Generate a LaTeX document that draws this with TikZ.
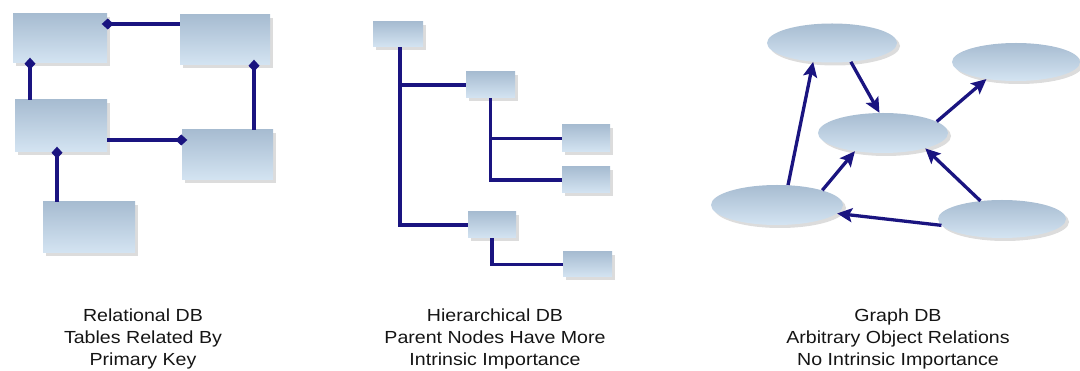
\documentclass[tikz,border=0pt]{standalone}
\usepackage{fontspec}
\newfontfamily\lblfont[FakeStretch=1.12]{Liberation Sans}
\usetikzlibrary{arrows.meta,shadows,shapes.geometric,calc}
\definecolor{navy}{HTML}{1A1480}
\definecolor{boxtop}{HTML}{A7BCD1}
\definecolor{boxbot}{HTML}{D4E4F2}
\definecolor{txt}{HTML}{151515}
\tikzset{
  tbl/.style={rectangle, draw=none, inner sep=0pt, top color=boxtop, bottom color=boxbot,
    drop shadow={shadow xshift=3pt, shadow yshift=-3pt, opacity=0.28, fill=gray}},
  obj/.style={ellipse, draw=none, inner sep=0pt, top color=boxtop, bottom color=boxbot,
    drop shadow={shadow xshift=3pt, shadow yshift=-3pt, opacity=0.28, fill=gray}},
  rel/.style={draw=navy, line width=3.4pt},
  reltip/.style={{Diamond[length=12pt,width=11pt]}-, shorten <=-5.5pt},
  tiptorel/.style={-{Diamond[length=12pt,width=11pt]}, shorten >=-5.5pt},
  treeln/.style={draw=navy, line width=3.1pt},
  arr/.style={draw=navy, line width=3.3pt, -{Stealth[length=15pt,width=14pt,inset=3pt]}},
  lbl/.style={font=\lblfont\fontsize{17.5}{22}\selectfont, text=txt, align=center, anchor=base, inner sep=0pt}
}
\begin{document}
\begin{tikzpicture}[x=1pt,y=-1pt]
\useasboundingbox (0,0) rectangle (1080,371);
% ---------- Relational ----------
\node[tbl, minimum width=94pt, minimum height=49pt] (a) at (60,38.5) {};
\node[tbl, minimum width=90pt, minimum height=50pt] (b) at (225,40) {};
\node[tbl, minimum width=92pt, minimum height=52pt] (c) at (61,126) {};
\node[tbl, minimum width=91pt, minimum height=50pt] (d) at (227.5,155) {};
\node[tbl, minimum width=92pt, minimum height=51pt] (e) at (89,227.5) {};
\draw[rel, reltip] ([yshift=14.5pt]a.east) coordinate (p1) -- (p1 -| b.west);
\draw[rel, reltip] ([xshift=-30pt]a.south) coordinate (p2) -- (p2 |- c.north);
\draw[rel, reltip] ([xshift=29pt]b.south) coordinate (p3) -- (p3 |- d.north);
\draw[rel, tiptorel] ([yshift=-14pt]c.east) coordinate (p4) -- (p4 -| d.west);
\draw[rel, reltip] ([xshift=-4pt]c.south) coordinate (p5) -- (p5 |- e.north);
% ---------- Hierarchical ----------
\node[tbl, minimum width=50pt, minimum height=25pt] (r) at (398,34.5) {};
\node[tbl, minimum width=49pt, minimum height=26pt] (c1) at (490.5,85) {};
\node[tbl, minimum width=48pt, minimum height=27pt] (g1) at (586,138.5) {};
\node[tbl, minimum width=48pt, minimum height=26pt] (g2) at (586,180) {};
\node[tbl, minimum width=48pt, minimum height=26pt] (c2) at (492,225) {};
\node[tbl, minimum width=49pt, minimum height=25pt] (g3) at (587.5,264.5) {};
\draw[treeln] ([xshift=2pt]r.south) |- (c1.west);
\draw[treeln] ([xshift=2pt]r.south) |- (c2.west);
\draw[treeln] (c1.south) |- (g1.west);
\draw[treeln] (c1.south) |- (g2.west);
\draw[treeln] (c2.south) |- (g3.west);
% ---------- Graph ----------
\node[obj, minimum width=130pt, minimum height=39pt] (e1) at (832,43) {};
\node[obj, minimum width=128pt, minimum height=38pt] (e2) at (1016,62) {};
\node[obj, minimum width=130pt, minimum height=40pt] (e3) at (883,133) {};
\node[obj, minimum width=132pt, minimum height=40pt] (e4) at (777,205) {};
\node[obj, minimum width=128pt, minimum height=38pt] (e5) at (1002,219) {};
\draw[arr] (e4.61) -- (e1.225);
\draw[arr] (e1.-45) -- (e3.100);
\draw[arr] (e3.12) -- (e2.210);
\draw[arr] (e4.18) -- (e3.213);
\draw[arr] (e5.140) -- (e3.-20);
\draw[arr] (e5.186) -- (e4.-8);
% ---------- Labels ----------
\node[lbl] (l1) at (143,366) {Relational DB\\Tables Related By\\Primary Key};
\node[lbl] (l2) at (495,366) {Hierarchical DB\\Parent Nodes Have More\\Intrinsic Importance};
\node[lbl] (l3) at (898,366) {Graph DB\\Arbitrary Object Relations\\No Intrinsic Importance};
\end{tikzpicture}
\end{document}
